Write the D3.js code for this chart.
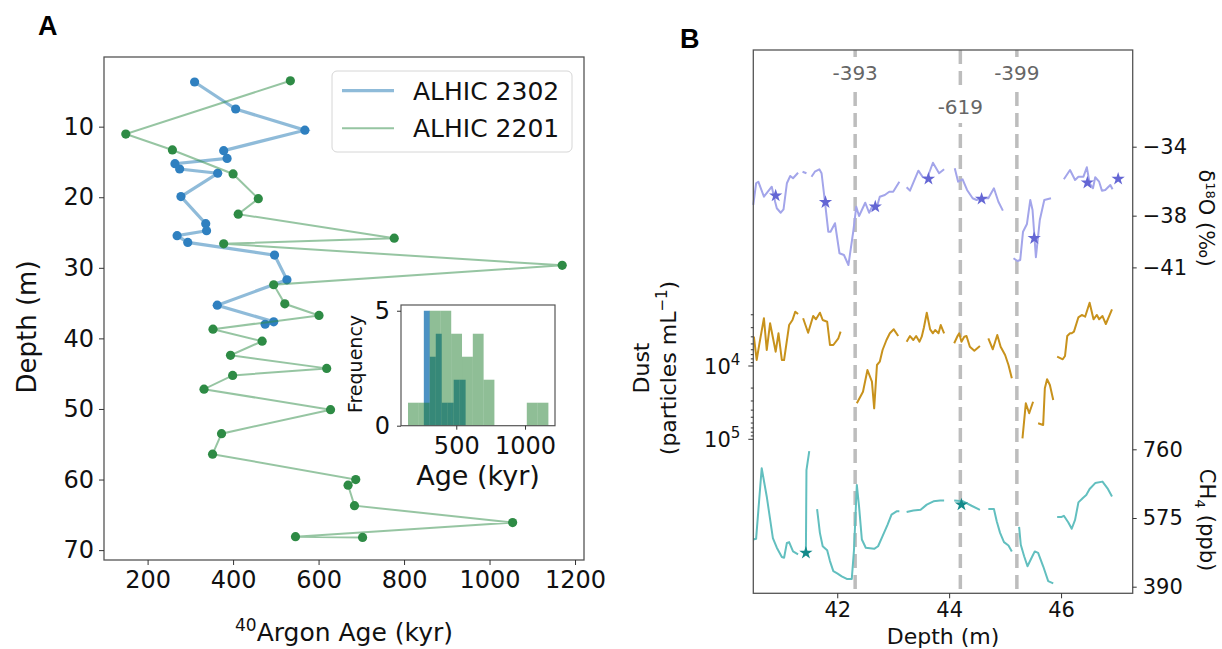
<!DOCTYPE html>
<html><head><meta charset="utf-8">
<script src="https://cdn.jsdelivr.net/npm/d3@7"></script>
<style>body{margin:0;background:#fff}</style>
</head><body>
<svg id="c" width="1222" height="649"></svg>
<script>
// ---------------- DATA ----------------
// Panel A: 40Ar ages (kyr) vs depth (m)
const alhic2302Age   = [310, 406, 568, 378, 386, 264, 275, 364, 278, 336, 338, 269, 294, 497, 526, 363, 495, 475];
const alhic2302Depth = [3.67, 7.5, 10.5, 13.4, 14.5, 15.25, 16.0, 16.6, 19.9, 23.75, 24.75, 25.45, 26.4, 28.2, 31.7, 35.3, 37.65, 38.0];
const alhic2201Age   = [534, 149, 258, 400, 459, 412, 777, 378, 1170, 495, 521, 601, 353, 468, 394, 619, 399, 332, 628, 373, 352, 687, 669, 684, 1054, 546, 703];
const alhic2201Depth = [3.5, 11.05, 13.3, 16.7, 20.2, 22.4, 25.8, 26.6, 29.65, 32.4, 35.1, 36.75, 38.7, 40.4, 42.4, 44.25, 45.25, 47.2, 50.1, 53.5, 56.4, 60.0, 60.8, 63.7, 66.1, 68.1, 68.2];
const seriesNames = ["ALHIC 2302", "ALHIC 2201"];
const ageTicks = [200, 400, 600, 800, 1000, 1200];
const depthTicks = [10, 20, 30, 40, 50, 60, 70];
const histAgeTicks = [500, 1000];
const histFreqTicks = [0, 5];
const histBins2302 = 7, histBins2201 = 13;

// Panel B: records vs depth (m); null = gap
const d18oDepth = [40.50,40.55,40.59,40.69,40.83,40.89,40.92,40.99,41.04,41.10,41.16,41.21,41.30,41.34,
  41.38,41.45,41.50,
  41.54,41.60,41.68,41.72,41.78,41.84,41.88,41.96,42.04,42.12,42.20,42.29,42.34,42.39,42.44,42.50,42.57,42.63,42.71,42.76,42.85,42.93,43.00,43.11,43.18,
  43.24,43.30,43.45,43.53,43.61,43.71,43.82,43.91,44.00,
  44.10,44.16,44.24,44.32,44.42,44.49,44.58,44.70,44.80,44.88,44.96,45.05,
  45.15,45.22,45.27,45.32,45.39,45.45,45.49,45.55,45.62,45.70,45.82,45.95,
  46.05,46.16,46.25,46.31,46.40,46.46,46.51,46.57,46.61,46.68,46.73,46.79,46.88,46.92];
const d18oValue = [-37.38,-36.12,-36.03,-36.90,-36.32,-37.19,-37.57,-37.83,-37.63,-36.12,-35.70,-35.83,-35.51,null,
  -35.45,-35.54,null,
  -35.74,-35.45,-35.31,-35.54,-37.19,-38.93,-38.93,-38.44,-40.18,-40.28,-40.86,-38.83,-37.48,-38.02,-37.67,-37.25,-37.83,-37.44,-37.48,-36.90,-36.80,-36.61,-36.61,-36.03,null,
  -36.35,-36.55,-35.39,-35.77,-35.80,-34.93,-35.54,-35.31,null,
  -35.25,-36.03,-35.89,-36.51,-36.99,-37.09,-36.99,-36.99,-36.41,-37.19,-37.71,null,
  -40.47,-40.63,-40.57,-38.93,-38.48,-37.09,-37.67,-40.41,-38.25,-37.09,-36.99,null,
  -35.89,-35.35,-35.93,-35.74,-35.74,-35.19,-36.12,-36.41,-35.77,-36.03,-36.55,-36.51,-36.22,-36.47];
const d18oStarDepth = [40.90, 41.79, 42.68, 43.63, 44.58, 45.52, 46.47, 47.02];
const d18oStarValue = [-36.84, -37.22, -37.48, -35.87, -37.03, -39.31, -36.09, -35.87];

const dustDepth = [40.51,40.56,40.61,40.69,40.74,40.80,40.90,40.95,41.01,41.05,41.14,41.20,41.25,41.30,41.35,
  41.39,41.48,41.57,41.62,41.69,41.74,41.82,41.87,41.93,42.02,42.06,42.20,
  42.35,42.46,42.54,42.62,42.66,42.71,42.76,42.81,42.88,42.94,43.01,43.09,43.17,
  43.24,43.30,43.36,43.41,43.47,43.51,43.55,43.60,43.66,43.71,43.75,43.81,43.85,43.91,44.00,
  44.09,44.15,44.18,44.22,44.27,44.31,44.37,44.45,44.55,44.62,
  44.70,44.78,44.86,44.92,45.00,45.06,45.12,45.20,
  45.31,45.37,45.43,45.50,45.55,
  45.59,45.68,45.71,45.75,45.80,45.86,45.90,
  45.93,46.03,46.07,46.11,46.16,46.19,46.23,46.31,46.37,46.43,46.51,46.58,46.64,46.68,46.74,46.80,46.91];
const dustValue = [3980,8280,4900,2234,6050,2615,6380,3580,8280,8280,2760,2357,1816,1953,null,
  2234,3515,2080,2306,1875,2357,2488,5170,5170,4188,3404,null,
  32270,22420,11340,16370,37780,9690,8740,6050,4420,3580,3160,3900,null,
  4660,3900,4420,3900,4660,3980,2965,1875,3160,3580,3228,3580,2760,3580,null,
  4900,3900,3580,4660,3980,3900,5455,6185,5335,null,
  4190,5915,3775,5455,7080,9690,14720,null,
  96900,32270,44180,30700,null,
  60500,63800,20140,15180,18160,29100,null,
  7470,8100,7310,3900,3580,3580,3400,2167,2013,2125,1369,2306,2013,2306,2080,2673,1685];

const ch4Depth = [40.50,40.55,40.65,40.74,40.85,40.92,41.01,41.05,41.10,41.14,41.21,41.30,41.35,
  41.40,41.44,41.45,41.50,41.57,
  41.64,41.69,41.74,41.82,41.87,41.93,42.00,42.08,42.17,42.26,42.30,42.35,42.39,42.44,42.51,42.66,42.73,42.81,42.90,42.97,43.06,43.11,43.18,
  43.24,43.36,43.49,43.60,43.72,43.84,43.91,44.00,
  44.09,44.25,44.40,44.55,44.62,
  44.70,44.80,44.85,44.91,44.98,45.06,45.12,45.18,
  45.25,45.28,45.34,45.40,45.48,45.53,45.59,45.68,45.77,45.86,45.90,
  45.93,46.01,46.05,46.13,46.19,46.25,46.31,46.39,46.45,46.51,46.61,46.74,46.83,46.91];
const ch4Value = [517,519,709,633,521,495,470,468,508,510,485,477,null,
  479,481,704,755,null,
  599,535,499,488,459,432,426,418,411,411,490,664,606,517,495,492,499,526,557,584,593,593,null,
  591,595,597,611,620,622,622,null,
  622,620,608,597,null,
  599,599,566,535,510,501,485,null,
  551,503,472,445,470,485,481,445,405,399,null,
  578,578,581,563,546,570,617,629,637,653,669,673,655,633];
const ch4StarDepth = [41.44, 44.22];
const ch4StarValue = [481, 611];

const markerDepth = [42.32, 44.20, 45.21];
const markerLabel = ["-393", "-619", "-399"];
const bDepthTicks = [42, 44, 46];
const d18oTicks = [-34, -38, -41];
const ch4Ticks = [390, 575, 760];
const dustMajorTicks = [1e4, 1e5];

// ---------------- STYLE ----------------
const FONT = "DejaVu Sans, sans-serif";
const BLUE = "#1f77b4", GREEN = "#1f7d2d", GREENPT = "#2e8b45";
const fmt = d3.format("d");
const svg = d3.select("#c").attr("font-family", FONT);

function styleAxis(g, size) {
  g.attr("font-family", FONT).attr("font-size", size);
  g.select(".domain").remove();
  g.selectAll(".tick line").attr("stroke", "#333").attr("stroke-width", 1);
  g.selectAll(".tick text").attr("fill", "#111");
}

// ================= PANEL A =================
const A = {l: 104, r: 584, t: 57, b: 560};
const xA = d3.scaleLinear().domain([98, 1221]).range([A.l, A.r]);
const yA = d3.scaleLinear().domain([0.13, 71.4]).range([A.t, A.b]);
const gA = svg.append("g");

const p2302 = d3.zip(alhic2302Age, alhic2302Depth);
const p2201 = d3.zip(alhic2201Age, alhic2201Depth);
const lineA = d3.line().x(d => xA(d[0])).y(d => yA(d[1]));

gA.append("path").attr("d", lineA(p2302)).attr("fill", "none")
  .attr("stroke", BLUE).attr("stroke-opacity", 0.5).attr("stroke-width", 3.2);
gA.selectAll(".pb").data(p2302).join("circle")
  .attr("cx", d => xA(d[0])).attr("cy", d => yA(d[1])).attr("r", 4.6)
  .attr("fill", "#2f80c0");
gA.append("path").attr("d", lineA(p2201)).attr("fill", "none")
  .attr("stroke", "#2e8b45").attr("stroke-opacity", 0.5).attr("stroke-width", 2);
gA.selectAll(".pg").data(p2201).join("circle")
  .attr("cx", d => xA(d[0])).attr("cy", d => yA(d[1])).attr("r", 4.6)
  .attr("fill", GREENPT);

gA.append("rect").attr("x", A.l).attr("y", A.t).attr("width", A.r - A.l).attr("height", A.b - A.t)
  .attr("fill", "none").attr("stroke", "#555").attr("stroke-width", 1.3);

styleAxis(gA.append("g").attr("transform", `translate(0,${A.b})`)
  .call(d3.axisBottom(xA).tickValues(ageTicks).tickFormat(fmt).tickSize(5).tickPadding(6)), 24);
styleAxis(gA.append("g").attr("transform", `translate(${A.l},0)`)
  .call(d3.axisLeft(yA).tickValues(depthTicks).tickFormat(fmt).tickSize(5).tickPadding(5)), 24);

gA.append("text").attr("transform", "translate(36,327) rotate(-90)").attr("text-anchor", "middle")
  .attr("font-size", 26).attr("fill", "#111").text("Depth (m)");
const xl = gA.append("text").attr("x", 344).attr("y", 641).attr("text-anchor", "middle")
  .attr("font-size", 25).attr("fill", "#111");
xl.append("tspan").attr("font-size", 17).attr("dy", -10).text("40");
xl.append("tspan").attr("dy", 10).text("Argon Age (kyr)");

// legend
const lg = gA.append("g");
lg.append("rect").attr("x", 332).attr("y", 71).attr("width", 240).attr("height", 81).attr("rx", 5)
  .attr("fill", "#fff").attr("fill-opacity", 0.8).attr("stroke", "#d6d6d6");
[[BLUE, 3.2, 90.7], ["#2e8b45", 2, 128.3]].forEach((s, i) => {
  lg.append("line").attr("x1", 342).attr("x2", 394).attr("y1", s[2]).attr("y2", s[2])
    .attr("stroke", s[0]).attr("stroke-opacity", 0.5).attr("stroke-width", s[1]);
  lg.append("text").attr("x", 413).attr("y", s[2] + 9).attr("font-size", 25).attr("fill", "#111")
    .text(seriesNames[i]);
});

// inset histogram
const I = {l: 401, r: 555, t: 305, b: 425.7};
const xI = d3.scaleLinear().domain([98, 1218]).range([I.l, I.r]);
const yI = d3.scaleLinear().domain([0, 5.25]).range([I.b, I.t]);
const gI = gA.append("g");
gI.append("rect").attr("x", I.l).attr("y", I.t).attr("width", I.r - I.l).attr("height", I.b - I.t).attr("fill", "#fff");
function equalBins(values, n) {
  const [lo, hi] = d3.extent(values);
  return d3.bin().domain([lo, hi]).thresholds(d3.range(1, n).map(i => lo + i * (hi - lo) / n))(values);
}
const bins2302 = equalBins(alhic2302Age, histBins2302);
const bins2201 = equalBins(alhic2201Age, histBins2201);
gI.selectAll(".hb").data(bins2302).join("rect")
  .attr("x", b => xI(b.x0)).attr("width", b => xI(b.x1) - xI(b.x0))
  .attr("y", b => yI(b.length)).attr("height", b => yI(0) - yI(b.length))
  .attr("fill", BLUE).attr("fill-opacity", 0.8);
gI.selectAll(".hg").data(bins2201).join("rect")
  .attr("x", b => xI(b.x0)).attr("width", b => xI(b.x1) - xI(b.x0))
  .attr("y", b => yI(b.length)).attr("height", b => yI(0) - yI(b.length))
  .attr("fill", GREEN).attr("fill-opacity", 0.5);
gI.append("rect").attr("x", I.l).attr("y", I.t).attr("width", I.r - I.l).attr("height", I.b - I.t)
  .attr("fill", "none").attr("stroke", "#555").attr("stroke-width", 1.2);
styleAxis(gI.append("g").attr("transform", `translate(0,${I.b})`)
  .call(d3.axisBottom(xI).tickValues(histAgeTicks).tickFormat(fmt).tickSize(4).tickPadding(7)), 24);
styleAxis(gI.append("g").attr("transform", `translate(${I.l},0)`)
  .call(d3.axisLeft(yI).tickValues(histFreqTicks).tickFormat(fmt).tickSize(4).tickPadding(7)), 24);
gI.append("text").attr("transform", "translate(362,364) rotate(-90)").attr("text-anchor", "middle")
  .attr("font-size", 19).attr("fill", "#111").text("Frequency");
gI.append("text").attr("x", 478).attr("y", 485).attr("text-anchor", "middle")
  .attr("font-size", 27).attr("fill", "#111").text("Age (kyr)");

// ================= PANEL B =================
const B = {l: 753.3, r: 1132.7, t: 50, b: 593.3};
const xB = d3.scaleLinear().domain([40.5, 47.28]).range([B.l, B.r]);
const yO = d3.scaleLinear().domain([-41, -34]).range([267.4, 146.7]);
const yD = d3.scaleLog().domain([1000, 100000]).range([292.7, 439.3]);
const yC = d3.scaleLinear().domain([390, 760]).range([586.7, 449.3]);
const gB = svg.append("g");

// dashed markers
markerDepth.forEach((d, i) => {
  gB.append("line").attr("x1", xB(d)).attr("x2", xB(d)).attr("y1", B.t).attr("y2", B.b)
    .attr("stroke", "#bdbdbd").attr("stroke-width", 3.5).attr("stroke-dasharray", "14,7");
});

function series(depth, val, y, color, w) {
  const pts = d3.zip(depth, val);
  gB.append("path").attr("fill", "none").attr("stroke", color).attr("stroke-width", w)
    .attr("stroke-linejoin", "round")
    .attr("d", d3.line().defined(d => d[1] != null).x(d => xB(d[0])).y(d => y(d[1]))(pts));
}
function stars(depth, val, y, color) {
  gB.selectAll(null).data(d3.zip(depth, val)).join("path")
    .attr("transform", d => `translate(${xB(d[0])},${y(d[1])})`)
    .attr("d", d3.symbol(d3.symbolStar, 55)).attr("fill", color);
}
series(d18oDepth, d18oValue, yO, "#a3a5ea", 2);
stars(d18oStarDepth, d18oStarValue, yO, "#6466d4");
series(dustDepth, dustValue, yD, "#c8921c", 2);
series(ch4Depth, ch4Value, yC, "#62bfbf", 2);
stars(ch4StarDepth, ch4StarValue, yC, "#138a8a");

// marker labels
markerDepth.forEach((d, i) => {
  const cy = i === 1 ? 107 : 73;
  gB.append("rect").attr("x", xB(d) - 26).attr("y", cy - 16).attr("width", 52).attr("height", 32).attr("fill", "#fff");
  gB.append("text").attr("x", xB(d)).attr("y", cy + 7).attr("text-anchor", "middle")
    .attr("font-size", 20).attr("fill", "#666").text(markerLabel[i]);
});

gB.append("rect").attr("x", B.l).attr("y", B.t).attr("width", B.r - B.l).attr("height", B.b - B.t)
  .attr("fill", "none").attr("stroke", "#555").attr("stroke-width", 1.3);

styleAxis(gB.append("g").attr("transform", `translate(0,${B.b})`)
  .call(d3.axisBottom(xB).tickValues(bDepthTicks).tickFormat(fmt).tickSize(5).tickPadding(4)), 21);
styleAxis(gB.append("g").attr("transform", `translate(${B.r},0)`)
  .call(d3.axisRight(yO).tickValues(d18oTicks).tickFormat(fmt).tickSize(4).tickPadding(6)), 21);
styleAxis(gB.append("g").attr("transform", `translate(${B.r},0)`)
  .call(d3.axisRight(yC).tickValues(ch4Ticks).tickFormat(fmt).tickSize(4).tickPadding(6)), 21);

// dust log axis (left)
const dustMinor = yD.ticks().filter(v => v >= 2000 && !dustMajorTicks.includes(v));
gB.selectAll(".dm").data(dustMinor).join("line")
  .attr("x1", B.l - 2.5).attr("x2", B.l).attr("y1", d => yD(d)).attr("y2", d => yD(d)).attr("stroke", "#333");
dustMajorTicks.forEach(v => {
  gB.append("line").attr("x1", B.l - 5).attr("x2", B.l).attr("y1", yD(v)).attr("y2", yD(v)).attr("stroke", "#333");
  const t = gB.append("text").attr("x", B.l - 13).attr("y", yD(v) + 7.5).attr("text-anchor", "end")
    .attr("font-size", 21).attr("fill", "#111");
  t.append("tspan").text("10");
  t.append("tspan").attr("font-size", 15).attr("dy", -9).text(Math.round(Math.log10(v)));
});
gB.append("text").attr("transform", "translate(649,368) rotate(-90)").attr("text-anchor", "middle")
  .attr("font-size", 22).attr("fill", "#111").text("Dust");
const pl = gB.append("text").attr("transform", "translate(676,368) rotate(-90)").attr("text-anchor", "middle")
  .attr("font-size", 22).attr("fill", "#111");
pl.append("tspan").text("(particles mL");
pl.append("tspan").attr("font-size", 15).attr("dy", -9).text("\u22121");
pl.append("tspan").attr("dy", 9).text(")");

const ol = gB.append("text").attr("transform", "translate(1199,218) rotate(90)").attr("text-anchor", "middle")
  .attr("font-size", 21).attr("fill", "#111");
ol.append("tspan").text("\u03b4");
ol.append("tspan").attr("font-size", 13).attr("dy", -7).text("18");
ol.append("tspan").attr("dy", 7).text("O (\u2030)");
const cl = gB.append("text").attr("transform", "translate(1200,520) rotate(90)").attr("text-anchor", "middle")
  .attr("font-size", 21).attr("fill", "#111");
cl.append("tspan").text("CH");
cl.append("tspan").attr("font-size", 14).attr("dy", 5).text("4");
cl.append("tspan").attr("dy", -5).text(" (ppb)");

gB.append("text").attr("x", 943).attr("y", 644).attr("text-anchor", "middle")
  .attr("font-size", 22).attr("fill", "#111").text("Depth (m)");

// panel letters
svg.append("text").attr("x", 38).attr("y", 35).attr("font-family", "Liberation Sans, Arial, sans-serif")
  .attr("font-weight", "bold").attr("font-size", 27).attr("fill", "#000").text("A");
svg.append("text").attr("x", 680).attr("y", 48).attr("font-family", "Liberation Sans, Arial, sans-serif")
  .attr("font-weight", "bold").attr("font-size", 27).attr("fill", "#000").text("B");
</script>
</body></html>
